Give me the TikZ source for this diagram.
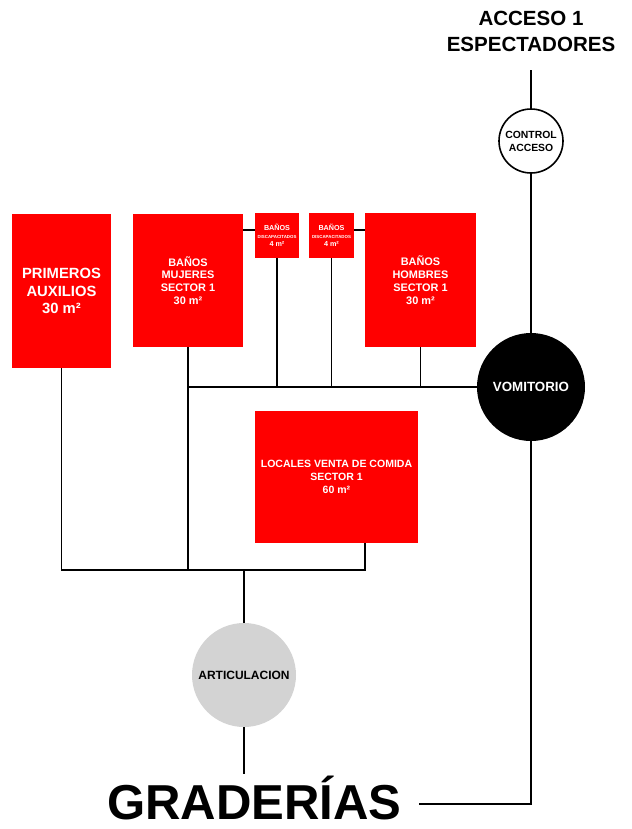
\documentclass[tikz,border=0pt]{standalone}
\usepackage{fontspec}
\setmainfont{Liberation Sans}
\usetikzlibrary{calc}
\definecolor{boxred}{RGB}{255,0,0}
\definecolor{hubgray}{RGB}{211,211,211}
\newcommand{\fs}[2]{\fontsize{#1}{#2}\selectfont}
\begin{document}
\begin{tikzpicture}[x=0.75pt,y=-0.75pt,
  room/.style={fill=boxred,draw=none,text=white,align=center,inner sep=0pt,font=\bfseries},
  hub/.style={circle,inner sep=0pt,align=center,font=\bfseries},
  link/.style={draw=black,line width=1.2pt},
  label/.style={inner sep=0pt,align=center,font=\bfseries},
  headline/.style={inner sep=0pt,font=\bfseries}]
\useasboundingbox (0,0) rectangle (632,829);

% rooms
\node[room,minimum width=74.25pt,minimum height=115.5pt,font=\bfseries\fs{11.1}{12.9}]
  (pa) at (61.5,291) {PRIMEROS\\AUXILIOS\\30 m²};
\node[room,minimum width=82.5pt,minimum height=99.75pt,font=\bfseries\fs{8.2}{9.6}]
  (bm) at (188,280.5) {BAÑOS\\MUJERES\\SECTOR 1\\30 m²};
\node[room,minimum width=33.25pt,minimum height=33.75pt,font=\bfseries\fs{5.4}{6}]
  (bd1) at (277,235.5) {BAÑOS\\{\fs{3.3}{5}DISCAPACITADOS}\\4 m²};
\node[room,minimum width=33.25pt,minimum height=33.75pt,font=\bfseries\fs{5.4}{6}]
  (bd2) at (331.5,235.5) {BAÑOS\\{\fs{3.3}{5}DISCAPACITADOS}\\4 m²};
\node[room,minimum width=83.25pt,minimum height=100.5pt,font=\bfseries\fs{8.2}{9.6}]
  (bh) at (420.5,280) {BAÑOS\\HOMBRES\\SECTOR 1\\30 m²};
\node[room,minimum width=122.25pt,minimum height=99pt,font=\bfseries\fs{7.9}{9.75}]
  (lc) at (336.5,477) {LOCALES VENTA DE COMIDA\\SECTOR 1\\60 m²};

% circular nodes
\node[hub,draw=black,line width=1.2pt,fill=white,minimum size=48pt,font=\bfseries\fs{7.8}{9.75}]
  (ctrl) at (531,141) {CONTROL\\ACCESO};
\node[hub,fill=black,text=white,minimum size=81pt,font=\bfseries\fs{10}{12}]
  (vom) at (531,387) {VOMITORIO};
\node[hub,fill=hubgray,minimum size=78pt,font=\bfseries\fs{9}{11}]
  (art) at (244,675) {ARTICULACION};

% titles
\node[label,font=\bfseries\fs{15.4}{19.5}] (acc) at (531,31) {ACCESO 1\\ESPECTADORES};
\node[headline,anchor=base west,font=\bfseries\fs{36.8}{40}] (grad) at (107,819) {GRADERÍAS};

% helper levels
\coordinate (hy) at (0,230);
\coordinate (busbot) at (0,570);
\coordinate (lcdrop) at ($(lc.south west)!0.675!(lc.south east)$);
\coordinate (gradline) at ([yshift=11.25pt]grad.base east);

% connectors
\draw[link,shorten <=14pt] (acc.south) -- (ctrl.north);
\draw[link] (ctrl.south) -- (vom.north);
\draw[link] (bm.east |- hy) -- (bd1.west |- hy);
\draw[link] (bd2.east |- hy) -- (bh.west |- hy);
\draw[link] (bm.south |- vom.west) -- (vom.west);
\draw[link] (bd1.south) -- (bd1.south |- vom.west);
\draw[link] (bd2.south) -- (bd2.south |- vom.west);
\draw[link] (bh.south) -- (bh.south |- vom.west);
\draw[link] (bm.south) -- (bm.south |- busbot);
\draw[link] (pa.south) -- (pa.south |- busbot) -- (lcdrop |- busbot) -- (lcdrop);
\draw[link] (art.north |- busbot) -- (art.north);
\draw[link,shorten >=1pt] (art.south) -- (art.south |- grad.north);
\draw[link,shorten <=13pt] (gradline) -- (vom.south |- gradline) -- (vom.south);
\end{tikzpicture}
\end{document}
